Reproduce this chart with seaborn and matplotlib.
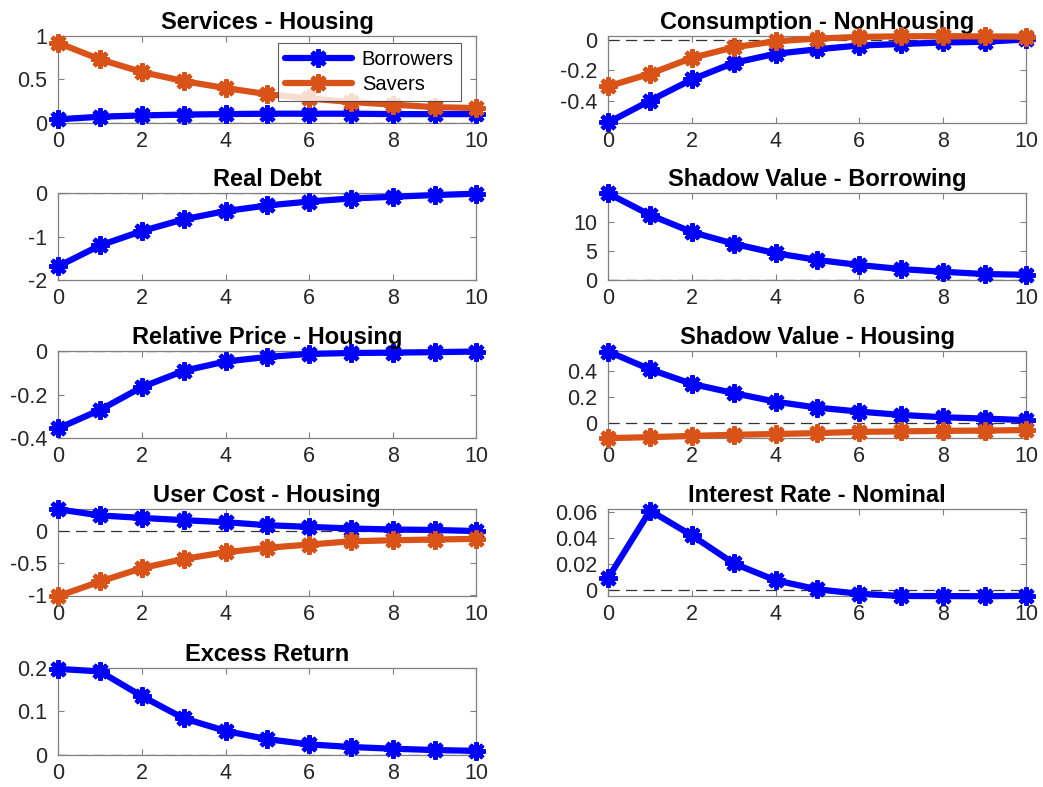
import numpy as np
import pandas as pd
import seaborn as sns
import matplotlib
matplotlib.use("Agg")
import matplotlib.pyplot as plt

periods = list(range(11))

services_borrowers = [0.04, 0.07, 0.085, 0.095, 0.10, 0.105, 0.105, 0.105, 0.10, 0.10, 0.10]
services_savers = [0.92, 0.73, 0.585, 0.48, 0.40, 0.33, 0.28, 0.24, 0.21, 0.18, 0.17]
consumption_borrowers = [-0.545, -0.40, -0.26, -0.15, -0.09, -0.06, -0.035, -0.025, -0.015, -0.01, 0.005]
consumption_savers = [-0.305, -0.222, -0.117, -0.047, -0.007, 0.011, 0.022, 0.026, 0.027, 0.025, 0.024]
real_debt = [-1.68, -1.20, -0.87, -0.60, -0.41, -0.28, -0.19, -0.12, -0.08, -0.04, -0.01]
shadow_borrowing = [14.9, 11.2, 8.27, 6.25, 4.63, 3.47, 2.6, 1.9, 1.44, 1.04, 0.92]
relative_price = [-0.355, -0.27, -0.165, -0.09, -0.047, -0.026, -0.012, -0.008, -0.006, -0.004, -0.001]
shadow_housing_borrowers = [0.545, 0.41, 0.30, 0.23, 0.165, 0.12, 0.09, 0.065, 0.047, 0.037, 0.025]
shadow_housing_savers = [-0.111, -0.104, -0.094, -0.086, -0.080, -0.073, -0.064, -0.060, -0.056, -0.054, -0.050]
user_cost_borrowers = [0.345, 0.248, 0.21, 0.174, 0.142, 0.095, 0.069, 0.043, 0.027, 0.02, 0.003]
user_cost_savers = [-1.02, -0.79, -0.58, -0.436, -0.33, -0.26, -0.21, -0.158, -0.142, -0.13, -0.12]
interest_rate = [0.0097, 0.061, 0.042, 0.0206, 0.0077, 0.0008, -0.0026, -0.0043, -0.0044, -0.0045, -0.0042]
excess_return = [0.198, 0.192, 0.135, 0.084, 0.055, 0.036, 0.024, 0.018, 0.014, 0.011, 0.009]

titles = ["Services - Housing", "Consumption - NonHousing", "Real Debt",
          "Shadow Value - Borrowing", "Relative Price - Housing",
          "Shadow Value - Housing", "User Cost - Housing",
          "Interest Rate - Nominal", "Excess Return"]
series_labels = ["Borrowers", "Savers"]

BLUE = "#0000FF"
ORANGE = "#D95319"

sns.set_style("ticks")
plt.rcParams["font.family"] = ["Liberation Sans", "DejaVu Sans"]
plt.rcParams["axes.unicode_minus"] = False

fig = plt.figure(figsize=(10.43, 7.87), dpi=100)

W, H = 1043, 787
col_x = [58.3, 608.3]
col_w = 418.0
row_top = [36.0, 193.3, 351.3, 509.3, 668.0]
row_h = 86.8

panels = [
    (0, 0, titles[0], [services_borrowers, services_savers], (0, 1), [0, 0.5, 1], ["0", "0.5", "1"]),
    (0, 1, titles[1], [consumption_borrowers, consumption_savers], (-0.547, 0.028), [-0.4, -0.2, 0], ["-0.4", "-0.2", "0"]),
    (1, 0, titles[2], [real_debt], (-2, 0), [-2, -1, 0], ["-2", "-1", "0"]),
    (1, 1, titles[3], [shadow_borrowing], (0, 14.93), [0, 5, 10], ["0", "5", "10"]),
    (2, 0, titles[4], [relative_price], (-0.4, 0), [-0.4, -0.2, 0], ["-0.4", "-0.2", "0"]),
    (2, 1, titles[5], [shadow_housing_borrowers, shadow_housing_savers], (-0.111, 0.547), [0, 0.2, 0.4], ["0", "0.2", "0.4"]),
    (3, 0, titles[6], [user_cost_borrowers, user_cost_savers], (-1.02, 0.345), [-1, -0.5, 0], ["-1", "-0.5", "0"]),
    (3, 1, titles[7], [interest_rate], (-0.0044, 0.062), [0, 0.02, 0.04, 0.06], ["0", "0.02", "0.04", "0.06"]),
    (4, 0, titles[8], [excess_return], (0, 0.2), [0, 0.1, 0.2], ["0", "0.1", "0.2"]),
]

ASTERISK = (8, 2, 0)
colors = [BLUE, ORANGE]
for r, c, title, ys, ylim, yt, ytl in panels:
    left = col_x[c] / W
    bottom = 1 - (row_top[r] + row_h) / H
    ax = fig.add_axes([left, bottom, col_w / W, row_h / H])
    ax.axhline(0, color="#333333", lw=0.9, ls=(0, (9, 5)), zorder=1)
    for i, y in enumerate(ys):
        sns.lineplot(x=periods, y=y, ax=ax, color=colors[i], lw=4.5,
                     marker=ASTERISK, markersize=13, markeredgewidth=3.2,
                     markeredgecolor=colors[i], markerfacecolor=colors[i],
                     label=series_labels[i] if (r == 0 and c == 0) else None,
                     legend=False, clip_on=False, zorder=3 + i)
    ax.set_xlim(0, 10)
    ax.set_ylim(*ylim)
    ax.set_xticks([0, 2, 4, 6, 8, 10])
    ax.set_xticklabels(["0", "2", "4", "6", "8", "10"])
    ax.set_yticks(yt)
    ax.set_yticklabels(ytl)
    ax.tick_params(direction="in", length=4, width=0.8, colors="#808080",
                   labelcolor="#262626", labelsize=15.5, top=True, right=True)
    ax.tick_params(axis="x", pad=6)
    ax.tick_params(axis="y", pad=8)
    for s in ax.spines.values():
        s.set_visible(True)
        s.set_color("#808080")
        s.set_linewidth(0.9)
    ax.set_xlabel("")
    ax.set_ylabel("")
    ax.set_title(title, fontsize=17, fontweight="bold", pad=5, color="black")
    if r == 0 and c == 0:
        leg = ax.legend(loc="upper right", fontsize=14.5, frameon=True, fancybox=False,
                        edgecolor="#333333", handlelength=3.3, borderpad=0.35,
                        labelspacing=0.3, handletextpad=0.5, borderaxespad=0,
                        bbox_to_anchor=(0.963, 0.922))
        leg.get_frame().set_linewidth(0.8)
        leg.set_zorder(10)
        for t in leg.get_texts():
            t.set_color("black")

fig.savefig("out.png", dpi=100)
